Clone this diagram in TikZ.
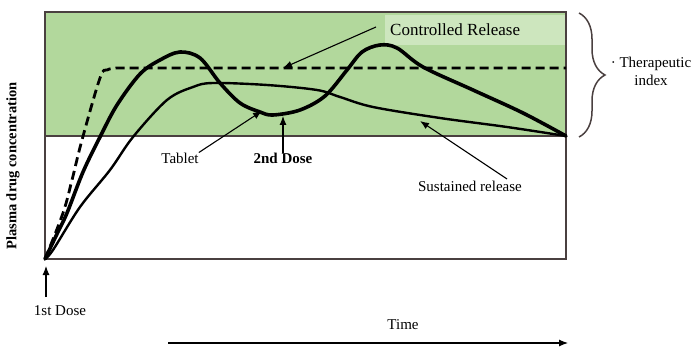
\documentclass[tikz,border=0pt]{standalone}
\usepackage{fontspec}
\setmainfont{Liberation Serif}
\usetikzlibrary{arrows.meta,decorations.pathreplacing}
\definecolor{tgreen}{HTML}{B2D89C}
\definecolor{tlight}{HTML}{CDE6BE}
\definecolor{frame}{HTML}{4A4040}
\begin{document}
\begin{tikzpicture}[x=1pt,y=-1pt,
  lbl/.style={font=\fontsize{15}{17}\selectfont, inner sep=0pt},
  pointer/.style={-{Latex[length=9pt,width=7pt]}, line width=1.1pt},
  tabletcurve/.style={line width=3.6pt, line join=round, line cap=round},
  srcurve/.style={line width=2.4pt, line join=round, line cap=round},
  crcurve/.style={line width=2.8pt, dash pattern=on 9pt off 5pt}]
\useasboundingbox (0,0) rectangle (692,347);
% therapeutic band
\fill[tgreen] (45,12) rectangle (566,136);
\fill[tlight] (385,15) rectangle (565,45);
% frame
\draw[frame, line width=1.5pt] (45,12) rectangle (566,259);
\draw[frame, line width=1.5pt] (45,136) -- (566,136);
% controlled release (dashed)
\draw[crcurve] plot[smooth, tension=0.6] coordinates {(45,259) (63,213) (72,180) (82,140) (100,78) (107,70) (116,68)} -- (566,68);
% tablet
\draw[tabletcurve] plot[smooth, tension=0.55] coordinates {(45,259) (56,236) (67,213) (83,172) (100,137) (117,105) (140,74) (160,60) (180,52) (200,58) (220,83) (240,103) (260,112) (273,115) (300,110) (325,96) (347,70) (362,52) (380,45) (397,48) (423,67) (473,90) (523,113) (566,136)};
% sustained release
\draw[srcurve] plot[smooth, tension=0.55] coordinates {(45,259) (53,250) (80,207) (110,170) (133,137) (167,100) (193,87) (213,83) (267,85) (317,90) (340,97) (373,107) (440,118) (507,127) (566,136)};
% labels
\node[lbl, font=\fontsize{17}{19}\selectfont, anchor=west] (cr) at (390,30) {Controlled Release};
\coordinate (crstart) at (376,27);
\coordinate (crtip) at (283,68);
\draw[pointer] (crstart) -- (crtip);
\node[lbl] (tab) at (180,158) {Tablet};
\coordinate (tabtip) at (262,111);
\draw[pointer] (tab.north east) -- (tabtip);
\node[lbl, font=\bfseries\fontsize{15}{17}\selectfont] (dose2) at (283,158) {2nd Dose};
\coordinate (dose2tip) at (283,116);
\draw[pointer] (dose2.north) -- (dose2tip);
\node[lbl] (sr) at (470,186) {Sustained release};
\coordinate (srstart) at (507,179);
\coordinate (srtip) at (420,121);
\draw[pointer] (srstart) -- (srtip);
\node[lbl] (dose1) at (60,311) {1st Dose};
\coordinate (d1start) at (46,297);
\coordinate (dose1top) at (46,266);
\draw[pointer] (d1start) -- (dose1top);
\node[lbl] (time) at (403,325) {Time};
\coordinate (tstart) at (168,343);
\coordinate (tend) at (568,343);
\draw[pointer] (tstart) -- (tend);
\node[lbl, font=\bfseries\fontsize{14.5}{16}\selectfont, rotate=90] (ylab) at (13,166) {Plasma drug concentration};
% brace
\coordinate (btop) at (579,13);
\coordinate (bbot) at (579,137);
\draw[frame, line width=1.5pt, decorate, decoration={brace, amplitude=26pt}] (btop) -- (bbot);
\node[lbl, align=center, anchor=north] (ti) at (651,57) {· Therapeutic\\[1pt]index};
\end{tikzpicture}
\end{document}
